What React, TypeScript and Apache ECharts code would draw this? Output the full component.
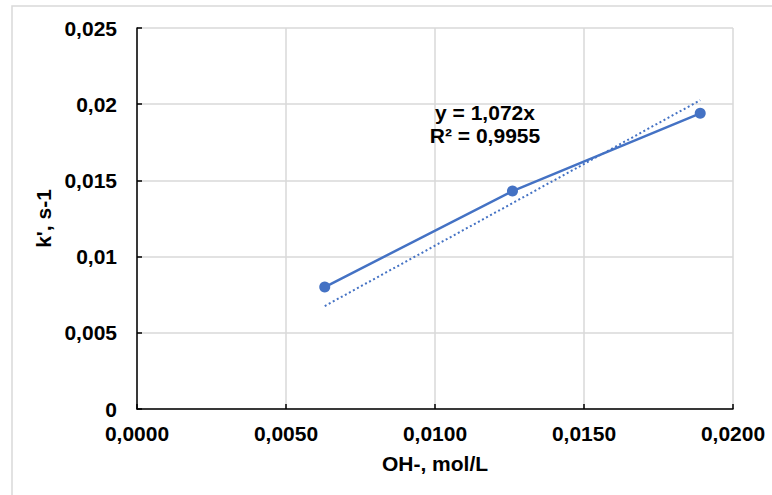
import React, { useEffect, useRef } from "react";
import * as echarts from "echarts";

const xValues = [0.0063, 0.0126, 0.0189];
const kValues = [0.008, 0.0143, 0.0194];
const trendSlope = 1.072;
const equationText = "y = 1,072x";
const r2Text = "R² = 0,9955";
const xAxisTitle = "OH-, mol/L";
const yAxisTitle = "k', s-1";

const BLUE = "#4472C4";
const FONT = "'Liberation Sans', Arial, sans-serif";
const FS = 21;

export default function App() {
  const ref = useRef<HTMLDivElement>(null);
  useEffect(() => {
    if (!ref.current) return;
    const chart = echarts.init(ref.current, undefined, { renderer: "svg" });
    const points = xValues.map((x, i) => [x, kValues[i]]);
    const xMin = Math.min(...xValues);
    const xMax = Math.max(...xValues);
    const trend = [
      [xMin, trendSlope * xMin],
      [xMax, trendSlope * xMax],
    ];
    chart.setOption({
      animation: false,
      backgroundColor: "#ffffff",
      textStyle: { fontFamily: FONT },
      grid: { left: 137, right: 39, top: 28, bottom: 86 },
      xAxis: {
        type: "value",
        min: 0,
        max: 0.02,
        interval: 0.005,
        name: xAxisTitle,
        nameLocation: "middle",
        nameGap: 44,
        nameTextStyle: { fontSize: FS, fontWeight: "bold", color: "#000", fontFamily: FONT },
        axisLine: { show: true, lineStyle: { color: "#000", width: 1.5 } },
        axisTick: { show: true, inside: true, length: 5, lineStyle: { color: "#000", width: 1.5 } },
        axisLabel: {
          fontSize: FS,
          fontWeight: "bold",
          color: "#000",
          margin: 14,
          fontFamily: FONT,
          formatter: (v: number) => v.toFixed(4).replace(".", ","),
        },
        splitLine: { show: true, lineStyle: { color: "#d9d9d9", width: 1.5 } },
      },
      yAxis: {
        type: "value",
        min: 0,
        max: 0.025,
        interval: 0.005,
        name: yAxisTitle,
        nameLocation: "middle",
        nameGap: 78,
        nameTextStyle: { fontSize: FS, fontWeight: "bold", color: "#000", fontFamily: FONT },
        axisLine: { show: true, lineStyle: { color: "#000", width: 1.5 } },
        axisTick: { show: true, inside: true, length: 5, lineStyle: { color: "#000", width: 1.5 } },
        axisLabel: {
          fontSize: FS,
          fontWeight: "bold",
          color: "#000",
          margin: 20,
          fontFamily: FONT,
          formatter: (v: number) =>
            v === 0 ? "0" : String(parseFloat(v.toFixed(4))).replace(".", ","),
        },
        splitLine: { show: true, lineStyle: { color: "#d9d9d9", width: 1.5 } },
      },
      graphic: [
        {
          type: "rect",
          shape: { x: 12, y: 6, width: 800, height: 520 },
          style: { fill: "none", stroke: "#d9d9d9", lineWidth: 1.5 },
          silent: true,
          z: 100,
        },
        {
          type: "text",
          x: 485,
          y: 112,
          style: {
            text: equationText,
            fontSize: FS,
            fontWeight: "bold",
            fontFamily: FONT,
            fill: "#000",
            align: "center",
            verticalAlign: "middle",
          },
          z: 100,
        },
        {
          type: "text",
          x: 485,
          y: 135,
          style: {
            text: r2Text,
            fontSize: FS,
            fontWeight: "bold",
            fontFamily: FONT,
            fill: "#000",
            align: "center",
            verticalAlign: "middle",
          },
          z: 100,
        },
      ],
      series: [
        {
          type: "line",
          data: trend,
          symbol: "none",
          lineStyle: { color: BLUE, width: 2, type: [2, 2.6] },
          z: 3,
        },
        {
          type: "line",
          data: points,
          symbol: "circle",
          symbolSize: 11,
          itemStyle: { color: BLUE },
          lineStyle: { color: BLUE, width: 2.5 },
          z: 4,
        },
      ],
    });
    return () => chart.dispose();
  }, []);
  return (
    <div
      ref={ref}
      style={{ position: "absolute", left: 0, top: 0, width: 772, height: 495 }}
    />
  );
}
